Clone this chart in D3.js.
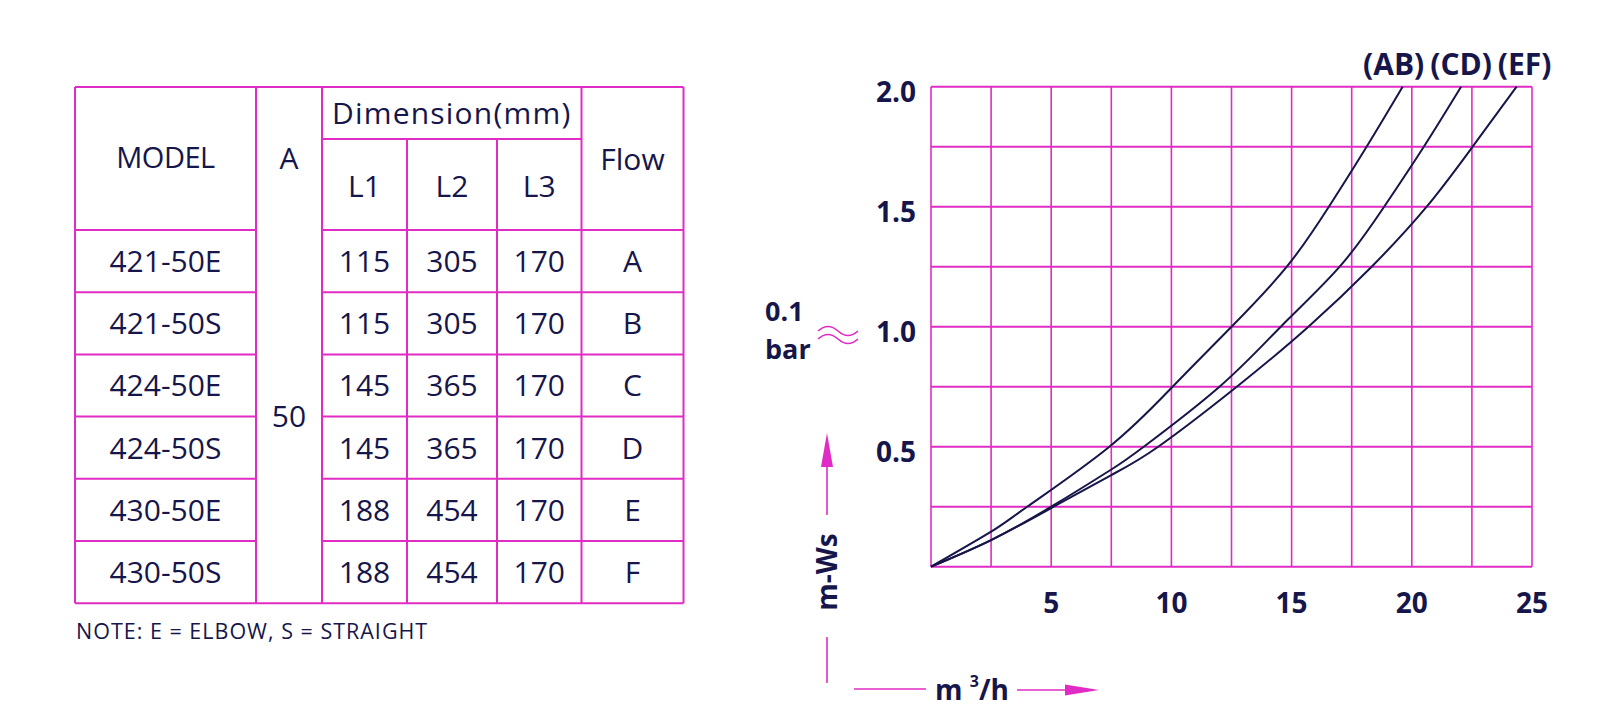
<!DOCTYPE html>
<html>
<head>
<meta charset="utf-8">
<script src="https://cdn.jsdelivr.net/npm/d3@7/dist/d3.min.js"></script>
<style>
  body { margin: 0; background: #fff; }
  svg { display: block; }
  text { font-family: "Open Sans", sans-serif; fill: #16164a; }
</style>
</head>
<body>
<div id="chart"></div>
<script>
// table data
const models = ["421-50E", "421-50S", "424-50E", "424-50S", "430-50E", "430-50S"];
const sizeA = 50;
const dimL1 = [115, 115, 145, 145, 188, 188];
const dimL2 = [305, 305, 365, 365, 454, 454];
const dimL3 = [170, 170, 170, 170, 170, 170];
const flows = ["A", "B", "C", "D", "E", "F"];
const note = "NOTE: E = ELBOW, S = STRAIGHT";

// pressure loss curves, flow (m3/h) -> loss (m-Ws)
const curveNames = ["(AB)", "(CD)", "(EF)"];
const flowAB = [0, 2.5, 4.0, 7.42, 10.05, 12.5, 14.8, 16.55, 18.12, 19.62];
const lossAB = [0, 0.146, 0.25, 0.5, 0.75, 1.0, 1.25, 1.5, 1.75, 2.0];
const flowCD = [0, 2.5, 5.0, 7.5, 8.85, 12.0, 14.55, 17.0, 18.85, 20.5, 22.05];
const lossCD = [0, 0.111, 0.25, 0.405, 0.5, 0.75, 1.0, 1.25, 1.5, 1.75, 2.0];
const flowEF = [0, 2.5, 5.1, 7.5, 9.45, 12.72, 15.7, 18.33, 20.62, 22.53, 24.36];
const lossEF = [0, 0.111, 0.25, 0.382, 0.5, 0.75, 1.0, 1.25, 1.5, 1.75, 2.0];
const xTickLabels = [5, 10, 15, 20, 25];
const yTickLabels = [0.5, 1.0, 1.5, 2.0];

const pink = "#e02cc4";
const navy = "#16164a";

const svg = d3.select("#chart").append("svg")
    .attr("width", 1600)
    .attr("height", 719);

// ---------- table ----------
const colX = [75, 256, 322, 407, 497, 581.5, 683.5];
const headTop = 87, subLine = 139, headBottom = 230, rowH = 62.2;
const rowScale = d3.scaleBand()
    .domain(models)
    .range([headBottom, headBottom + rowH * models.length]);
const tableBottom = rowScale.range()[1];

const table = svg.append("g");
const tline = (x1, y1, x2, y2) => table.append("line")
    .attr("x1", x1).attr("y1", y1).attr("x2", x2).attr("y2", y2)
    .attr("stroke", pink).attr("stroke-width", 2);

// outer frame and column lines
tline(colX[0], headTop, colX[6], headTop);
tline(colX[0], tableBottom, colX[6], tableBottom);
[0, 1, 2, 5, 6].forEach(i => tline(colX[i], headTop, colX[i], tableBottom));
[3, 4].forEach(i => tline(colX[i], subLine, colX[i], tableBottom));
tline(colX[2], subLine, colX[5], subLine);
// row lines (column A spans all rows)
models.forEach(m => {
    tline(colX[0], rowScale(m), colX[1], rowScale(m));
    tline(colX[2], rowScale(m), colX[6], rowScale(m));
});

const ttext = (x, y, s, size) => table.append("text")
    .attr("x", x).attr("y", y)
    .attr("text-anchor", "middle")
    .attr("dy", "0.36em")
    .style("font-size", (size || 30) + "px")
    .text(s);
const mid = i => (colX[i] + colX[i + 1]) / 2;

ttext(mid(0), 158, "MODEL", 29).style("letter-spacing", "-0.5px");
ttext(mid(1), 158, "A");
ttext((colX[2] + colX[5]) / 2, 113, "Dimension(mm)").style("letter-spacing", "1.2px");
ttext(mid(2), 186, "L1");
ttext(mid(3), 186, "L2");
ttext(mid(4), 186, "L3");
ttext(mid(5), 159, "Flow");
ttext(mid(1), (headBottom + tableBottom) / 2, sizeA);

models.forEach((m, i) => {
    const cy = rowScale(m) + rowScale.bandwidth() / 2;
    ttext(mid(0), cy, m);
    ttext(mid(2), cy, dimL1[i]);
    ttext(mid(3), cy, dimL2[i]);
    ttext(mid(4), cy, dimL3[i]);
    ttext(mid(5), cy, flows[i]);
});

table.append("text")
    .attr("x", 76).attr("y", 631)
    .attr("dy", "0.36em")
    .style("font-size", "21.5px")
    .style("letter-spacing", "1px")
    .text(note);

// ---------- chart ----------
const x = d3.scaleLinear().domain([0, 25]).range([931, 1532]);
const y = d3.scaleLinear().domain([0, 2]).range([566.7, 86.7]);

const grid = svg.append("g");
grid.selectAll("line.v")
    .data(d3.range(0, 25.01, 2.5))
    .join("line")
    .attr("x1", d => x(d)).attr("x2", d => x(d))
    .attr("y1", y(0)).attr("y2", y(2))
    .attr("stroke", pink).attr("stroke-width", 1.6);
grid.selectAll("line.h")
    .data(d3.range(0, 2.001, 0.25))
    .join("line")
    .attr("x1", x(0)).attr("x2", x(25))
    .attr("y1", d => y(d)).attr("y2", d => y(d))
    .attr("stroke", pink).attr("stroke-width", 2);

const axisText = svg.append("g")
    .style("font-weight", "bold")
    .style("font-size", "28px");
axisText.selectAll("text.x")
    .data(xTickLabels)
    .join("text")
    .attr("x", d => x(d))
    .attr("y", 613)
    .attr("text-anchor", "middle")
    .text(d => d);
axisText.selectAll("text.y")
    .data(yTickLabels)
    .join("text")
    .attr("x", 916)
    .attr("y", d => y(d) + 15)
    .attr("text-anchor", "end")
    .text(d => d.toFixed(1));

// curves
const series = [
    { name: curveNames[0], xs: flowAB, ys: lossAB, dx: -9 },
    { name: curveNames[1], xs: flowCD, ys: lossCD, dx: 0 },
    { name: curveNames[2], xs: flowEF, ys: lossEF, dx: 8 }
];
const line = d3.line()
    .x(d => x(d[0]))
    .y(d => y(d[1]))
    .curve(d3.curveNatural);
svg.append("g").selectAll("path")
    .data(series)
    .join("path")
    .attr("d", s => line(s.xs.map((v, i) => [v, s.ys[i]])))
    .attr("fill", "none")
    .attr("stroke", navy)
    .attr("stroke-width", 2);

axisText.selectAll("text.curve")
    .data(series)
    .join("text")
    .attr("x", s => x(s.xs[s.xs.length - 1]) + s.dx)
    .attr("y", 75)
    .attr("text-anchor", "middle")
    .style("font-size", "30px")
    .text(s => s.name);

// "0.1 bar ≈ 1.0" note
axisText.append("text").attr("x", 765).attr("y", 321).style("font-size", "27px").text("0.1");
axisText.append("text").attr("x", 765).attr("y", 359).style("font-size", "27px").text("bar");
const wave = yy => `M818,${yy} q10,-9 20,0 t20,0`;
svg.append("path").attr("d", wave(331)).attr("fill", "none").attr("stroke", pink).attr("stroke-width", 1.6);
svg.append("path").attr("d", wave(339)).attr("fill", "none").attr("stroke", pink).attr("stroke-width", 1.6);

// y axis title with arrow
const ax = svg.append("g");
ax.append("line").attr("x1", 827).attr("x2", 827).attr("y1", 515).attr("y2", 460)
    .attr("stroke", pink).attr("stroke-width", 1.6);
ax.append("path").attr("d", "M827,433 L833,467 L821,467 Z").attr("fill", pink);
ax.append("line").attr("x1", 827).attr("x2", 827).attr("y1", 637).attr("y2", 683)
    .attr("stroke", pink).attr("stroke-width", 1.6);
axisText.append("text")
    .attr("transform", "translate(837,572) rotate(-90)")
    .attr("text-anchor", "middle")
    .text("m-Ws");

// x axis title with arrow
ax.append("line").attr("x1", 854).attr("x2", 926).attr("y1", 689).attr("y2", 689)
    .attr("stroke", pink).attr("stroke-width", 1.6);
ax.append("line").attr("x1", 1017).attr("x2", 1070).attr("y1", 690).attr("y2", 690)
    .attr("stroke", pink).attr("stroke-width", 1.6);
ax.append("path").attr("d", "M1099,690 L1065,684.5 L1065,695.5 Z").attr("fill", pink);
const xt = axisText.append("text").attr("x", 935).attr("y", 700);
xt.append("tspan").text("m ");
xt.append("tspan").attr("dy", -13).style("font-size", "16px").text("3");
xt.append("tspan").attr("dy", 13).text("/h");
</script>
</body>
</html>
